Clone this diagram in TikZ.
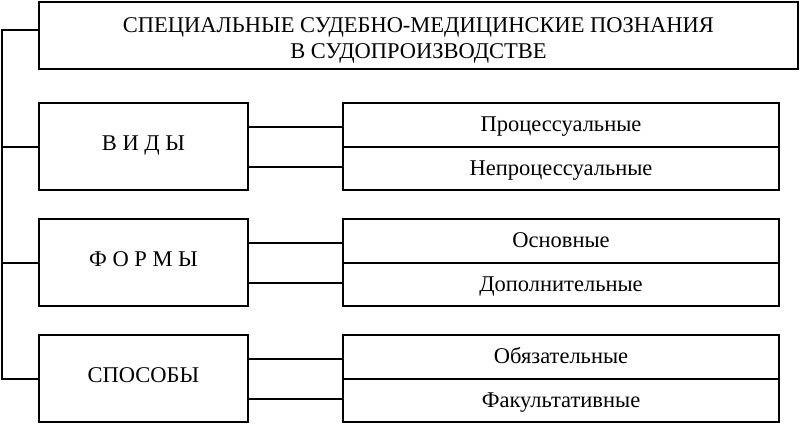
\documentclass[tikz,border=0pt]{standalone}
\usepackage{fontspec}
\setmainfont{Liberation Serif}
\usetikzlibrary{calc}

\tikzset{
  every picture/.style={line width=2pt},
  headbox/.style={draw, inner sep=0pt, minimum width=759pt, minimum height=67pt,
    align=center, font=\fontsize{22.5}{26}\selectfont},
  leftbox/.style={draw, inner sep=0pt, minimum width=209pt, minimum height=87pt,
    text height=15pt, text depth=7pt, font=\fontsize{22.5}{26}\selectfont},
  rightbox/.style={draw, inner sep=0pt, minimum width=436pt, minimum height=43.5pt,
    text height=15pt, text depth=1pt, font=\fontsize{22.5}{26}\selectfont}
}

\begin{document}
\begin{tikzpicture}[x=1pt, y=-1pt]
  \useasboundingbox (0,0) rectangle (800,424);

  \node[headbox] (head) at (418.5,35.5)
    {\rule{0pt}{24.5pt}СПЕЦИАЛЬНЫЕ СУДЕБНО-МЕДИЦИНСКИЕ ПОЗНАНИЯ\\В СУДОПРОИЗВОДСТВЕ};

  \node[leftbox] (vid)  at (143.5,146.5) {В И Д Ы};
  \node[leftbox] (form) at (143.5,262.5) {Ф О Р М Ы};
  \node[leftbox] (spos) at (143.5,378.5) {СПОСОБЫ};

  \node[rightbox] (vid-a)  at (561,124.75) {Процессуальные};
  \node[rightbox] (vid-b)  at (561,168.25) {Непроцессуальные};
  \node[rightbox] (form-a) at (561,240.75) {Основные};
  \node[rightbox] (form-b) at (561,284.25) {Дополнительные};
  \node[rightbox] (spos-a) at (561,356.75) {Обязательные};
  \node[rightbox] (spos-b) at (561,400.25) {Факультативные};

  % left trunk
  \coordinate (trunk) at (2,0);
  \draw ([yshift=5.5pt]head.west) -| (spos.west -| trunk) -- (spos.west);
  \draw (vid.west -| trunk) -- (vid.west);
  \draw (form.west -| trunk) -- (form.west);

  \foreach \g in {vid,form,spos} {
    \draw ([yshift=20pt]\g.east) -- ([yshift=20pt]\g.east -| \g-a.west);
    \draw ([yshift=-20pt]\g.east) -- ([yshift=-20pt]\g.east -| \g-b.west);
  }

\end{tikzpicture}
\end{document}
